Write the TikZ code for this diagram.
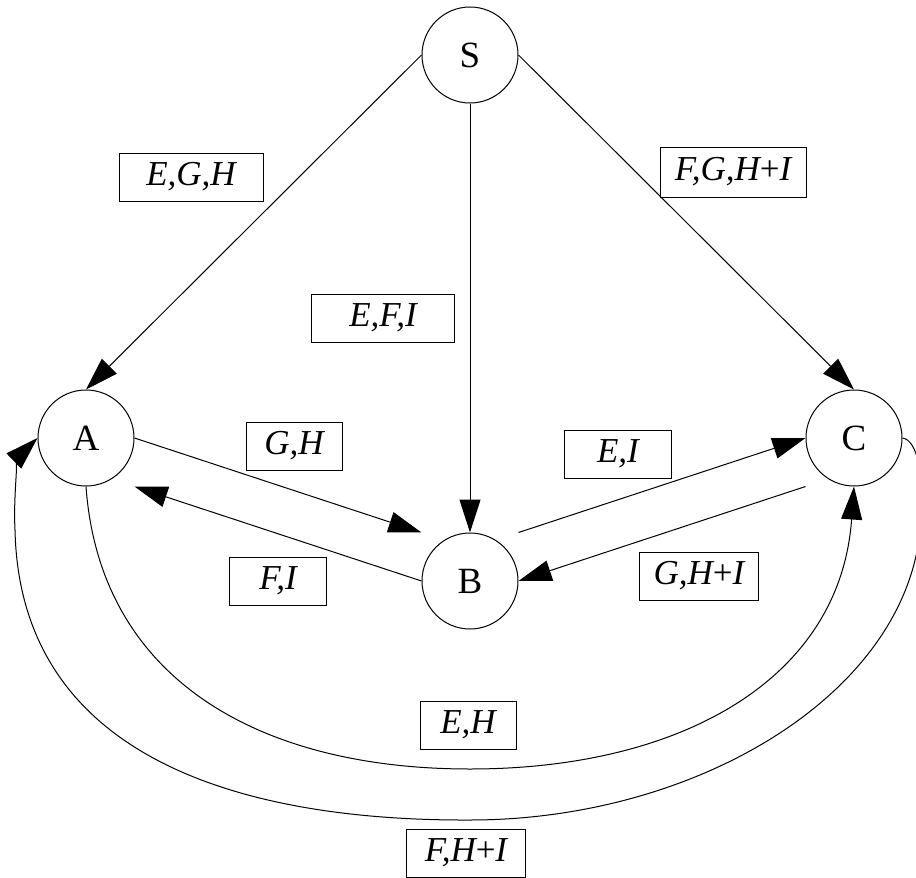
\documentclass[tikz,border=0pt]{standalone}
\usepackage{fontspec}
\setmainfont{Liberation Serif}
\usetikzlibrary{arrows.meta}
\tikzset{
  state/.style={draw, circle, minimum size=96pt, inner sep=0pt, line width=1pt, font=\fontsize{37}{40}\selectfont},
  lbl/.style={draw, rectangle, inner sep=0pt, minimum height=48pt, line width=1pt, font=\fontsize{35}{38}\selectfont\itshape},
  conn/.style={line width=1pt},
  arr/.style={conn, -{Triangle[length=33pt,width=21pt]}}
}
\begin{document}
\begin{tikzpicture}[x=1pt,y=-1pt]
\useasboundingbox (0,0) rectangle (916,878);
\fill[white] (0,0) rectangle (916,878);
% states
\node[state] (S) at (470,55) {S};
\node[state] (A) at (86,438) {A};
\node[state] (B) at (470,581) {B};
\node[state] (C) at (854,438) {C};
% labels
\node[lbl, minimum width=144pt] (lSA) at (191,177) {E,G,H};
\node[lbl, minimum width=143pt] (lSB) at (383,318) {E,F,I};
\node[lbl, minimum width=146pt, minimum height=50pt] (lSC) at (733,172) {F,G,H{\upshape+}I};
\node[lbl, minimum width=96pt] (lAB) at (294,446) {G,H};
\node[lbl, minimum width=107pt] (lBC) at (618,454) {E,I};
\node[lbl, minimum width=97pt] (lBA) at (278,581) {F,I};
\node[lbl, minimum width=119pt] (lCB) at (699,576) {G,H{\upshape+}I};
\node[lbl, minimum width=96pt] (lAC) at (468,725) {E,H};
\node[lbl, minimum width=119pt] (lCA) at (466,853) {F,H{\upshape+}I};
% helper points
\coordinate (innerbot) at (470,769);
\coordinate (outerright) at (921,518);
\coordinate (outerbot) at (470,820);
\coordinate (outerleft) at (15,530);
% straight connectors
\draw[arr] (S.west) -- (A.north);
\draw[arr] (S.south) -- (B.north);
\draw[arr] (S.east) -- (C.north);
\draw[arr] (A.east) -- (B.west |- B.north);
\draw[arr] (B.west) -- (A.east |- A.south);
\draw[arr] (B.east |- B.north) -- (C.west);
\draw[arr] (C.west |- C.south) -- (B.east);
% curved connectors
\draw[arr] (A.south) .. controls (100,680) and (260,769) .. (innerbot)
  .. controls (680,769) and (840,680) .. (C.south);
\draw[arr] (C.east) .. controls (918,440) and (924,478) .. (outerright)
  .. controls (914,690) and (700,820) .. (outerbot)
  .. controls (245,821) and (20,760) .. (outerleft)
  .. controls (13,490) and (20,455) .. (A.west);
\end{tikzpicture}
\end{document}
